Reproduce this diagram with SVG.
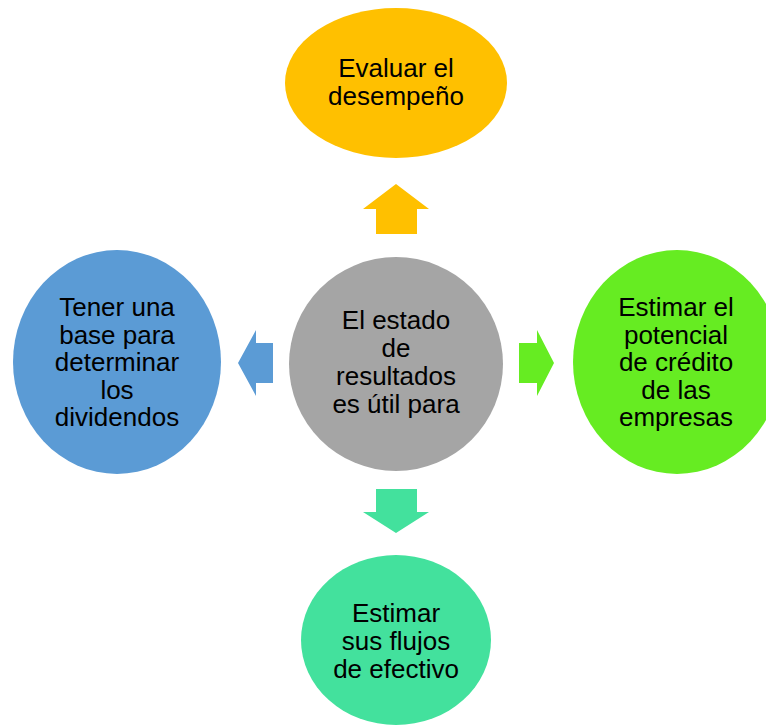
<svg xmlns="http://www.w3.org/2000/svg" width="766" height="725" viewBox="0 0 766 725">
  <style>
    .lbl { font-family: "Liberation Sans", Arial, sans-serif; font-size: 26px; fill: #000; text-anchor: middle; }
    .gold { fill: #FFC000; }
    .blue { fill: #5B9BD5; }
    .gray { fill: #A5A5A5; }
    .lime { fill: #66EC22; }
    .mint { fill: #43E19D; }
  </style>
  <rect width="766" height="725" fill="#FFFFFF"/>

  <!-- block arrows from the centre out to each idea -->
  <g id="connectors">
    <polygon class="gold" points="396,184 429,209 417,209 417,234 376,234 376,209 363,209"/>
    <polygon class="blue" points="238,363 256,330 256,343 273,343 273,383 256,383 256,396"/>
    <polygon class="lime" points="554,363 537,330 537,343 519,343 519,383 537,383 537,396"/>
    <polygon class="mint" points="396,533 429,512 417,512 417,489 376,489 376,512 363,512"/>
  </g>

  <g id="center">
    <ellipse class="gray" cx="396" cy="364" rx="107" ry="107"/>
    <text class="lbl" x="396" y="329">El estado</text>
    <text class="lbl" x="396" y="357">de</text>
    <text class="lbl" x="396" y="385">resultados</text>
    <text class="lbl" x="396" y="413">es útil para</text>
  </g>

  <g id="top">
    <ellipse class="gold" cx="396" cy="83" rx="111" ry="75"/>
    <text class="lbl" x="396" y="77">Evaluar el</text>
    <text class="lbl" x="396" y="105">desempeño</text>
  </g>

  <g id="left">
    <ellipse class="blue" cx="117" cy="362" rx="104" ry="112"/>
    <text class="lbl" x="117" y="316">Tener una</text>
    <text class="lbl" x="117" y="343.5">base para</text>
    <text class="lbl" x="117" y="371">determinar</text>
    <text class="lbl" x="117" y="398.5">los</text>
    <text class="lbl" x="117" y="426">dividendos</text>
  </g>

  <g id="right">
    <ellipse class="lime" cx="677" cy="362" rx="104" ry="112"/>
    <text class="lbl" x="676" y="316">Estimar el</text>
    <text class="lbl" x="676" y="343.5">potencial</text>
    <text class="lbl" x="676" y="371">de crédito</text>
    <text class="lbl" x="676" y="398.5">de las</text>
    <text class="lbl" x="676" y="426">empresas</text>
  </g>

  <g id="bottom">
    <ellipse class="mint" cx="396" cy="640" rx="95" ry="85"/>
    <text class="lbl" x="396" y="622">Estimar</text>
    <text class="lbl" x="396" y="650">sus flujos</text>
    <text class="lbl" x="396" y="678">de efectivo</text>
  </g>
</svg>
